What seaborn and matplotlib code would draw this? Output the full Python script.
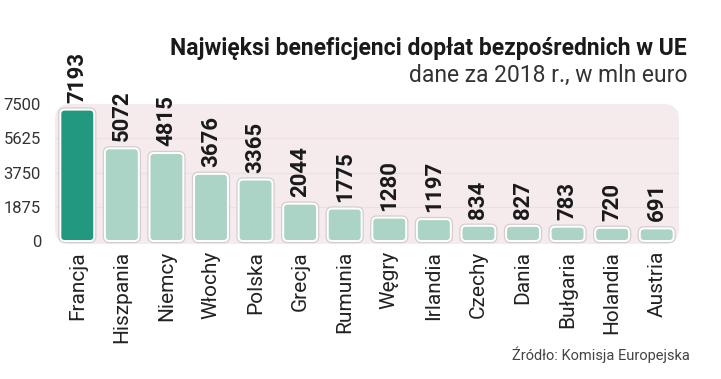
import numpy as np
import pandas as pd
import seaborn as sns
import matplotlib
matplotlib.use('Agg')
import matplotlib.pyplot as plt
import matplotlib.patheffects as pe
from matplotlib.patches import FancyBboxPatch

countries = ['Francja', 'Hiszpania', 'Niemcy', 'Włochy', 'Polska', 'Grecja', 'Rumunia',
             'Węgry', 'Irlandia', 'Czechy', 'Dania', 'Bułgaria', 'Holandia', 'Austria']
values = [7193, 5072, 4815, 3676, 3365, 2044, 1775, 1280, 1197, 834, 827, 783, 720, 691]
yticks = [0, 1875, 3750, 5625, 7500]

title = 'Najwięksi beneficjenci dopłat bezpośrednich w UE'
subtitle = 'dane za 2018 r., w mln euro'
source = 'Źródło: Komisja Europejska'

dark = '#21987f'
light = '#acd4c6'
panel = '#f5ebed'

sns.set_theme(style='white')
plt.rcParams['font.family'] = ['Roboto', 'DejaVu Sans']

df = pd.DataFrame({'kraj': countries, 'wartosc': values})
colors = [dark] + [light] * (len(countries) - 1)

fig = plt.figure(figsize=(7.21, 3.79), dpi=100)
ax = fig.add_axes([55 / 721, 1 - 244 / 379, 624 / 721, 140 / 379])
ax.set_facecolor('none')

# panel background with rounded corners
bg = FancyBboxPatch((-0.5, -164), 14, 7664, boxstyle='round,pad=0,rounding_size=0.35',
                    mutation_aspect=2430, facecolor=panel, edgecolor='none',
                    transform=ax.transData, zorder=0, clip_on=False)
ax.add_patch(bg)

sns.barplot(data=df, x='kraj', y='wartosc', hue='kraj', palette=colors, legend=False,
            width=0.76, saturation=1, ax=ax, zorder=3)

# swap bars for rounded ones
for p in list(ax.patches):
    if p is bg:
        continue
    x, y = p.get_x(), p.get_y()
    w, h = p.get_width(), p.get_height()
    fc = p.get_facecolor()
    p.remove()
    rb = FancyBboxPatch((x, y), w, h, boxstyle='round,pad=0,rounding_size=0.1',
                        mutation_aspect=2430, facecolor=fc, edgecolor='white',
                        linewidth=1.4, zorder=3, clip_on=False)
    rb.set_path_effects([pe.Stroke(linewidth=3.2, foreground='#d6cdcf'), pe.Normal()])
    ax.add_patch(rb)

for i, v in enumerate(values):
    ax.annotate(str(v), (i, v), xytext=(0, 5), textcoords='offset points',
                rotation=90, ha='center', va='bottom', fontsize=16,
                fontweight='bold', color='#1a1a1a', annotation_clip=False)

for yv in yticks[1:-1]:
    ax.axhline(yv, color='#ede0e2', linewidth=0.8, zorder=1)

ax.set_xlim(-0.5, 13.5)
ax.set_ylim(-164, 7500)
ax.set_yticks(yticks)
ax.set_yticklabels([str(t) for t in yticks], fontsize=12, color='#333333')
ax.set_xticks(range(len(countries)))
ax.set_xticklabels(countries, rotation=90, fontsize=15, color='#222222')
ax.tick_params(axis='y', length=0, pad=10)
ax.tick_params(axis='x', length=0, pad=5)
ax.set_xlabel('')
ax.set_ylabel('')
sns.despine(ax=ax, left=True, bottom=True)

fig.text(0.953, 0.873, title, ha='right', va='center', fontsize=16.5, fontweight='bold',
         color='#1a1a1a')
fig.text(0.953, 0.800, subtitle, ha='right', va='center', fontsize=16.5, color='#333333')
fig.text(0.957, 0.063, source, ha='right', va='center', fontsize=10.5, color='#444444')

fig.savefig('out.png', dpi=100)
